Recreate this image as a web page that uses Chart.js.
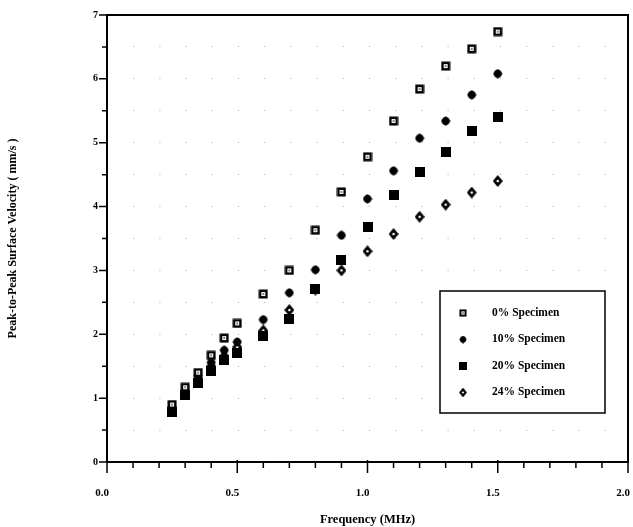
<!DOCTYPE html>
<html>
<head>
<meta charset="utf-8">
<script src="https://cdn.jsdelivr.net/npm/chart.js@4/dist/chart.umd.min.js"></script>
<style>
  html, body { margin: 0; padding: 0; background: #fff; }
  #wrap { width: 633px; height: 527px; }
</style>
</head>
<body>
<div id="wrap"><canvas id="velocityChart"></canvas></div>
<script>
// frequency (MHz) and peak-to-peak velocity (mm/s) per specimen
const freq = [0.25, 0.3, 0.35, 0.4, 0.45, 0.5, 0.6, 0.7, 0.8, 0.9, 1.0, 1.1, 1.2, 1.3, 1.4, 1.5];
const spec0 = [0.90, 1.17, 1.40, 1.67, 1.94, 2.17, 2.63, 3.00, 3.63, 4.23, 4.78, 5.34, 5.84, 6.20, 6.47, 6.74];
const spec10 = [0.86, 1.12, 1.35, 1.56, 1.75, 1.88, 2.23, 2.65, 3.01, 3.55, 4.12, 4.56, 5.07, 5.34, 5.75, 6.08];
const spec20 = [0.78, 1.05, 1.24, 1.43, 1.60, 1.70, 1.97, 2.24, 2.71, 3.17, 3.68, 4.18, 4.54, 4.86, 5.19, 5.41];
const spec24 = [0.83, 1.09, 1.30, 1.50, 1.66, 1.80, 2.06, 2.38, 2.70, 3.00, 3.30, 3.57, 3.84, 4.03, 4.22, 4.40];
const labels = ['0% Specimen', '10% Specimen', '20% Specimen', '24% Specimen'];
const xTicks = ['0.0', '0.5', '1.0', '1.5', '2.0'];

const serif = '"Liberation Serif", "DejaVu Serif", serif';

// little marker images
function marker(kind) {
    const c = document.createElement('canvas');
    c.width = 10;
    c.height = kind === 'openDiamond' ? 12 : 10;
    const g = c.getContext('2d');
    g.fillStyle = '#000';
    if (kind === 'openSquare') {
        g.fillRect(0.5, 0.5, 9, 9);
        g.fillStyle = '#fff';
        g.fillRect(3, 3, 4, 4);
        g.fillStyle = '#000';
        g.fillRect(4, 4.5, 2, 1);
    } else if (kind === 'dot') {
        g.beginPath();
        g.moveTo(5, 0); g.lineTo(9.8, 5); g.lineTo(5, 10); g.lineTo(0.2, 5);
        g.closePath();
        g.fill();
        g.beginPath();
        g.arc(5, 5, 3.9, 0, Math.PI * 2);
        g.fill();
    } else if (kind === 'square') {
        g.fillRect(0, 0, 10, 10);
    } else {
        g.beginPath();
        g.moveTo(5, 0); g.lineTo(10, 6); g.lineTo(5, 12); g.lineTo(0, 6);
        g.closePath();
        g.fill();
        g.beginPath();
        g.arc(5, 6, 3.2, 0, Math.PI * 2);
        g.fill();
        g.fillStyle = '#fff';
        g.beginPath();
        g.arc(5, 6, 1.3, 0, Math.PI * 2);
        g.fill();
    }
    return c;
}
const markers = [marker('openSquare'), marker('dot'), marker('square'), marker('openDiamond')];
const series = [spec0, spec10, spec20, spec24];

// frame, tick marks and boxed legend
const frame = {
    id: 'frame',
    afterDraw(chart) {
        const { ctx, chartArea: a, scales: { x, y } } = chart;
        ctx.save();
        ctx.strokeStyle = '#000';
        ctx.lineWidth = 2;
        ctx.strokeRect(a.left, a.top, a.right - a.left, a.bottom - a.top);

        ctx.lineWidth = 1.5;
        ctx.beginPath();
        x.ticks.forEach(t => {
            const px = x.getPixelForValue(t.value);
            const major = Math.abs(t.value * 2 - Math.round(t.value * 2)) < 1e-6;
            ctx.moveTo(px, a.bottom - (major ? 2 : 0));
            ctx.lineTo(px, a.bottom + (major ? 11 : 6));
        });
        y.ticks.forEach(t => {
            const py = y.getPixelForValue(t.value);
            const major = Math.abs(t.value - Math.round(t.value)) < 1e-6;
            ctx.moveTo(a.left, py);
            ctx.lineTo(a.left - (major ? 8 : 5), py);
        });
        ctx.stroke();

        // legend box
        const lx = a.right - 188, ly = a.top + 276, lw = 165, lh = 122;
        ctx.fillStyle = '#fff';
        ctx.fillRect(lx, ly, lw, lh);
        ctx.lineWidth = 1.5;
        ctx.strokeRect(lx, ly, lw, lh);
        ctx.fillStyle = '#000';
        ctx.font = 'bold 11.5px ' + serif;
        ctx.textBaseline = 'middle';
        chart.data.datasets.forEach((ds, i) => {
            const ry = ly + 22 + i * 26.5;
            const m = ds.pointStyle;
            ctx.drawImage(m, lx + 23 - m.width * 0.4, ry - m.height * 0.4, m.width * 0.8, m.height * 0.8);
            ctx.fillText(ds.label, lx + 52, ry);
        });
        ctx.restore();
    }
};

new Chart(document.getElementById('velocityChart'), {
    type: 'scatter',
    data: {
        datasets: series.map((s, i) => ({
            label: labels[i],
            data: freq.map((f, k) => ({ x: f, y: s[k] })),
            pointStyle: markers[i],
            showLine: false
        }))
    },
    options: {
        responsive: true,
        maintainAspectRatio: false,
        animation: false,
        layout: { padding: { top: 15, right: 2, left: 0, bottom: 0 } },
        plugins: { legend: { display: false }, tooltip: { enabled: false } },
        scales: {
            x: {
                type: 'linear',
                min: 0,
                max: 2,
                afterFit: s => { s.height = 65; s.paddingLeft = 0; s.paddingRight = 0; },
                grid: { drawOnChartArea: false, drawTicks: false },
                border: { display: false },
                ticks: {
                    stepSize: 0.1,
                    autoSkip: false,
                    maxRotation: 0,
                    padding: 25,
                    labelOffset: -5,
                    color: '#000',
                    font: { family: serif, size: 11, weight: 'bold' },
                    callback: v => {
                        const i = Math.round(v * 2);
                        return Math.abs(v * 2 - i) < 1e-6 ? xTicks[i] : '';
                    }
                },
                title: {
                    display: true,
                    text: 'Frequency (MHz)',
                    color: '#000',
                    font: { family: serif, size: 12.5, weight: 'bold' },
                    padding: { top: 0, bottom: 0 }
                }
            },
            y: {
                min: 0,
                max: 7,
                afterFit: s => { s.width = 107; s.paddingTop = 0; s.paddingBottom = 0; },
                grid: { color: '#a8a8a8', lineWidth: 1, drawTicks: false },
                border: { display: false, dash: [1, 25.2] },
                ticks: {
                    stepSize: 0.5,
                    autoSkip: false,
                    padding: 9,
                    color: '#000',
                    font: { family: serif, size: 10, weight: 'bold' },
                    callback: v => Number.isInteger(v) ? String(v) : ''
                },
                title: {
                    display: true,
                    text: 'Peak-to-Peak Surface Velocity ( mm/s )',
                    color: '#000',
                    font: { family: serif, size: 12, weight: 'bold' },
                    padding: { top: 6, bottom: 0 }
                }
            }
        }
    },
    plugins: [frame]
});
</script>
</body>
</html>
